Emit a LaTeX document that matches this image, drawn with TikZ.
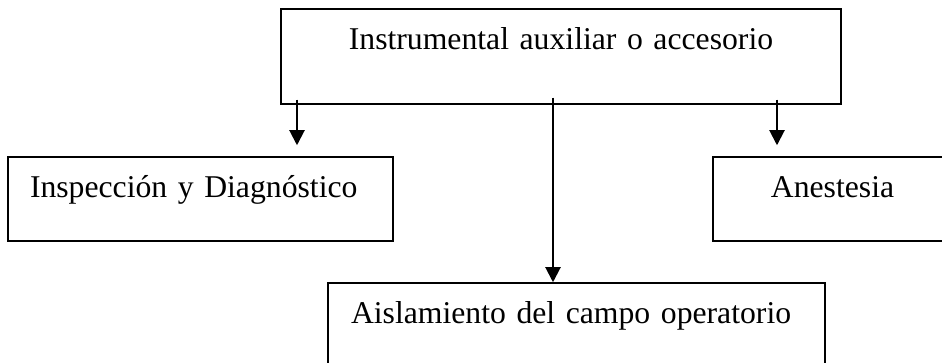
\documentclass[tikz,border=0pt]{standalone}
\usepackage{fontspec}
\setmainfont{Liberation Serif}
\usetikzlibrary{arrows.meta,calc}
\begin{document}
\begin{tikzpicture}[x=1pt,y=1pt,
  box/.style={draw, line width=1.5pt, inner ysep=0pt, text height=41pt, font=\fontsize{31.7}{38}\selectfont},
  leftbox/.style={box, inner xsep=22pt, align=left},
  ctrbox/.style={box, inner xsep=0pt, align=center},
  arr/.style={line width=2pt, -{Triangle[width=15pt,length=15pt]}}]
\useasboundingbox (0,0) rectangle (942,363);
\clip (0,0) rectangle (942,363);
\node[ctrbox, text width=560pt, text depth=54pt] (top) at (561,306.5) {Instrumental auxiliar o accesorio};
\node[leftbox, text width=341pt, text depth=43pt] (insp) at (200.5,164) {Inspección y Diagnóstico};
\node[ctrbox, text width=239pt, text depth=43pt] (anest) at (832.5,164) {Anestesia};
\node[leftbox, inner xsep=23pt, text width=451pt, text depth=56pt] (aisl) at (576.5,31.5) {Aislamiento del campo operatorio};
\coordinate (xl) at (297,0);
\coordinate (xc) at (553,0);
\coordinate (xr) at (777,0);
\draw[arr] ($(top.south -| xl)+(0,5)$) -- ($(insp.north -| xl)+(0,11)$);
\draw[arr] ($(top.south -| xc)+(0,7)$) -- (aisl.north -| xc);
\draw[arr] ($(top.south -| xr)+(0,5)$) -- ($(anest.north -| xr)+(0,11)$);
\end{tikzpicture}
\end{document}
